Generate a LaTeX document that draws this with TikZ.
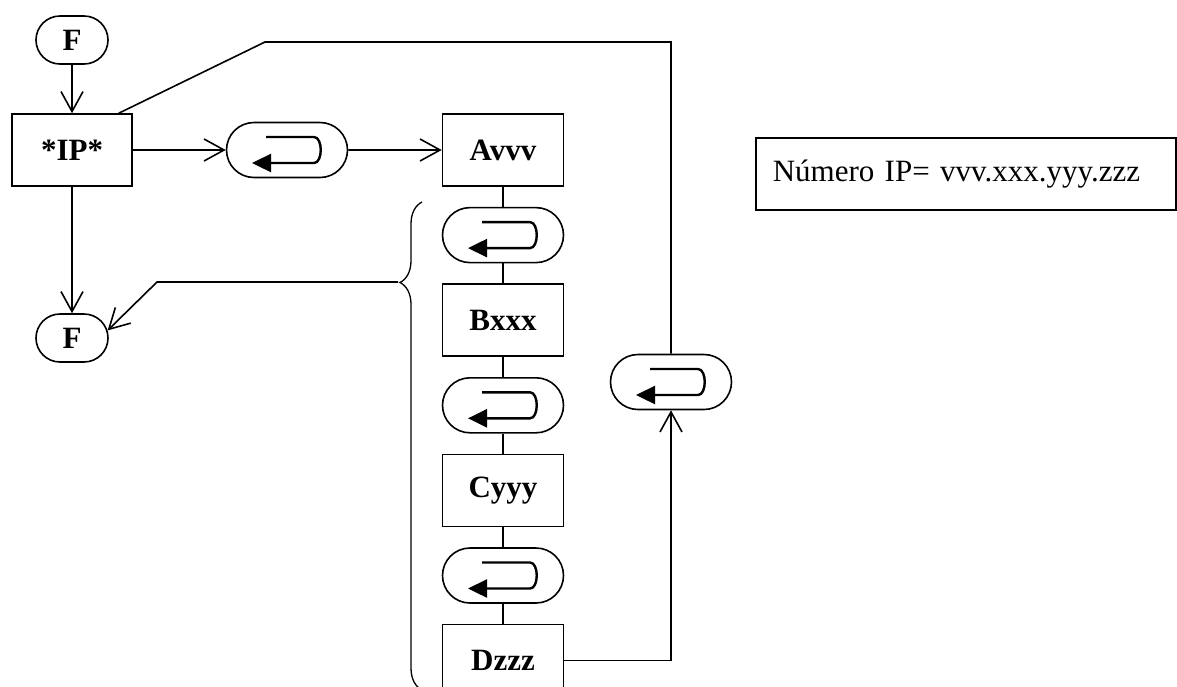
\documentclass[tikz,border=0pt]{standalone}
\usepackage{fontspec}
\setmainfont{Liberation Serif}
\usetikzlibrary{arrows.meta,positioning,shapes.misc,decorations.pathreplacing}
\tikzset{
  stepbox/.style={rectangle, draw, line width=1.6pt, minimum width=121pt, minimum height=72pt,
                  inner sep=0pt, font=\fontsize{31}{36}\selectfont\bfseries},
  term/.style={rounded rectangle, draw, line width=1.6pt, minimum width=72pt, minimum height=48pt,
               inner sep=0pt, font=\fontsize{31}{36}\selectfont\bfseries},
  enterkey/.style={rounded rectangle, draw, line width=1.6pt, minimum width=121pt, minimum height=55pt,
                   inner sep=0pt,
                   path picture={\draw[line width=2.4pt, -{Triangle[length=19pt,width=18pt]},
                                       shift={(path picture bounding box.center)}]
                                 (-21pt,13pt) -- (27pt,13pt) .. controls (36pt,13pt) and (36pt,-13pt) .. (27pt,-13pt)
                                 -- (-35pt,-13pt);}},
  infobox/.style={rectangle, draw, line width=1.6pt, minimum height=72pt, text width=386pt,
                  inner xsep=17pt, align=left, font=\fontsize{31}{36}\selectfont},
  arrow/.style={-{Straight Barb[length=20pt,width=22pt]}, line width=1.6pt},
  link/.style={line width=1.6pt},
}
\begin{document}
\begin{tikzpicture}[x=1pt, y=-1pt, node distance=20pt]
\useasboundingbox (0,0) rectangle (1177,686);
% left side
\node[term] (fstart) at (72,40) {F};
\node[stepbox, minimum width=120pt] (ip) at (72,150) {*IP*};
\node[term] (fend) at (72,338) {F};
\node[enterkey] (ok1) at (287,150) {};
% column of fields
\node[stepbox] (avvv) at (503,150) {Avvv};
\node[enterkey, below=of avvv] (ok2) {};
\node[stepbox, below=of ok2] (bxxx) {Bxxx};
\node[enterkey, below=of bxxx] (ok3) {};
\node[stepbox, below=of ok3] (cyyy) {Cyyy};
\node[enterkey, below=of cyyy] (ok4) {};
\node[stepbox, below=of ok4] (dzzz) {Dzzz};
\node[enterkey] (loop) at (671,382) {};
\node[infobox, anchor=west] (info) at (755,174) {Número IP= vvv.xxx.yyy.zzz};
% connectors
\draw[arrow] (fstart) -- (ip);
\draw[arrow] (ip) -- (fend);
\draw[arrow] (ip) -- (ok1);
\draw[arrow] (ok1) -- (avvv);
\foreach \a/\b in {avvv/ok2, ok2/bxxx, bxxx/ok3, ok3/cyyy, cyyy/ok4, ok4/dzzz}
  \draw[link] (\a) -- (\b);
\coordinate (topbend) at (265,42);
\draw[link] ([xshift=-14pt]ip.north east) -- (topbend) -- (topbend -| loop) -- (loop.north);
\draw[arrow] (dzzz.east) -| (loop.south);
% brace back to the end
\draw[link, line width=1.3pt, decorate, decoration={brace, mirror, amplitude=22pt, aspect=0.165}]
  (422,202) -- (422,690);
\coordinate (bracetip) at (398,282);
\coordinate (bracebend) at (157,282);
\draw[arrow] (bracetip) -- (bracebend) -- (fend.12);
\end{tikzpicture}
\end{document}
